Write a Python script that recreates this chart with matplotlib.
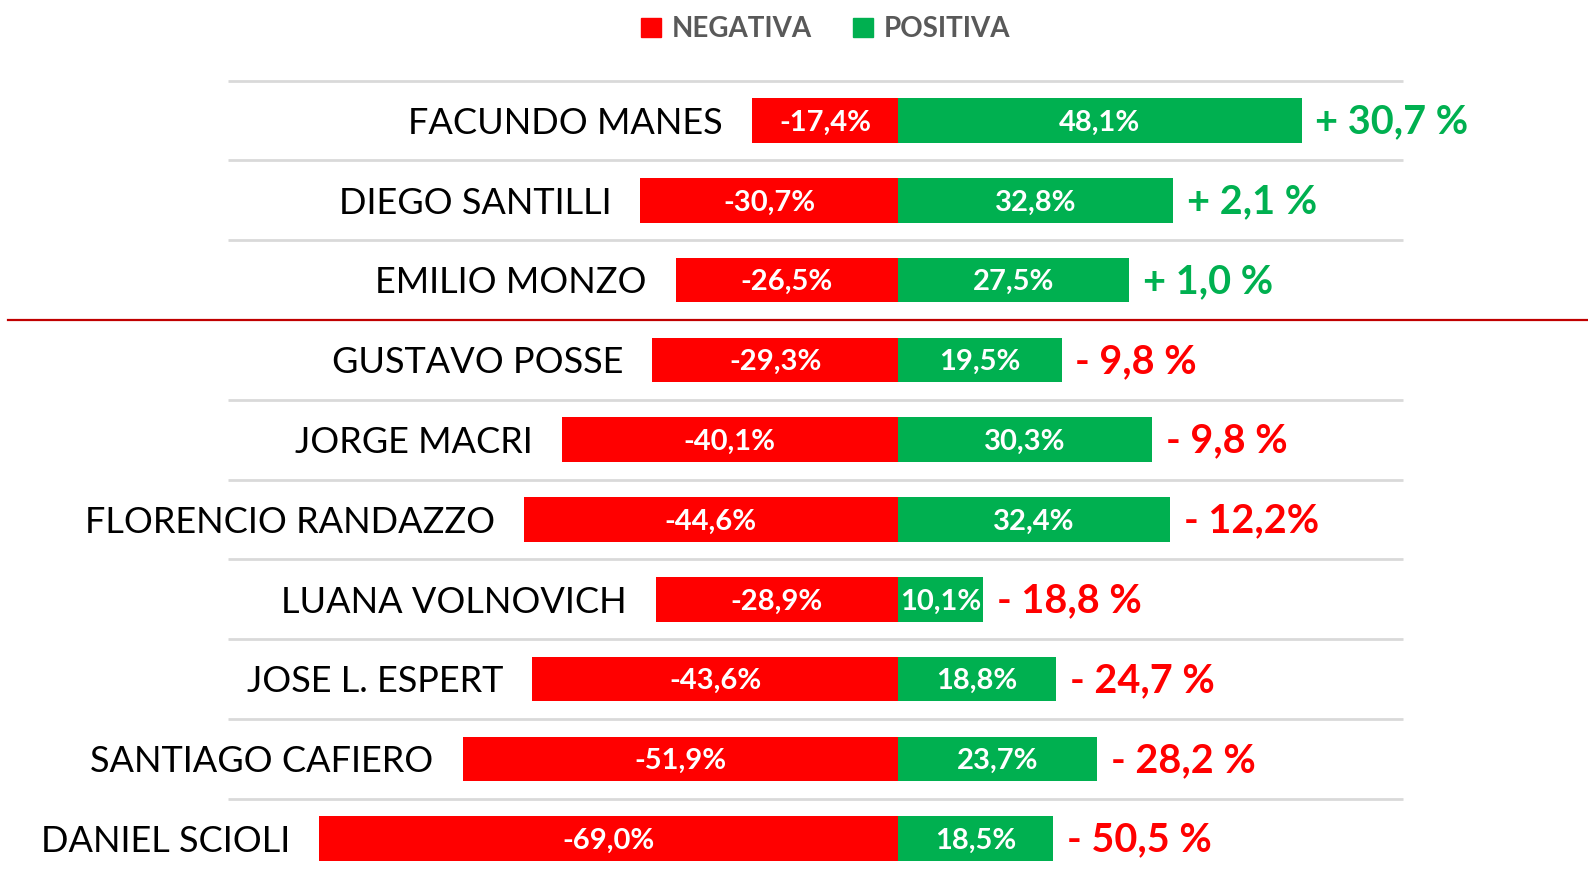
import numpy as np
import matplotlib.pyplot as plt
from matplotlib.patches import Patch

# imagen positiva / negativa por dirigente
names = ['FACUNDO MANES', 'DIEGO SANTILLI', 'EMILIO MONZO', 'GUSTAVO POSSE',
         'JORGE MACRI', 'FLORENCIO RANDAZZO', 'LUANA VOLNOVICH',
         'JOSE L. ESPERT', 'SANTIAGO CAFIERO', 'DANIEL SCIOLI']
negativa = [-17.4, -30.7, -26.5, -29.3, -40.1, -44.6, -28.9, -43.6, -51.9, -69.0]
positiva = [48.1, 32.8, 27.5, 19.5, 30.3, 32.4, 10.1, 18.8, 23.7, 18.5]
neg_labels = ['-17,4%', '-30,7%', '-26,5%', '-29,3%', '-40,1%', '-44,6%',
              '-28,9%', '-43,6%', '-51,9%', '-69,0%']
pos_labels = ['48,1%', '32,8%', '27,5%', '19,5%', '30,3%', '32,4%',
              '10,1%', '18,8%', '23,7%', '18,5%']
diff_labels = ['+ 30,7 %', '+ 2,1 %', '+ 1,0 %', '- 9,8 %', '- 9,8 %',
               '- 12,2%', '- 18,8 %', '- 24,7 %', '- 28,2 %', '- 50,5 %']

RED = '#FF0000'
GREEN = '#00B050'
FONT = 'Lato'

fig = plt.figure(figsize=(15.88, 8.71), dpi=100)
ax = fig.add_axes([0, 0, 1, 1])
ax.set_axis_off()

# scale: zero at 898 px, 8.39 px per percent; rows every 79.8 px
ax.set_xlim(-898 / 8.39, (1588 - 898) / 8.39)
ax.set_ylim((871 - 120.5) / 79.8, -120.5 / 79.8)

y = np.arange(len(names))

# separators
for k in range(len(names)):
    yy = k - 0.5
    if k == 3:
        ax.axhline(2.5, xmin=0.005, xmax=1, color='#C00000', lw=1.6, zorder=1)
    else:
        ax.plot([-79.9, 60.2], [yy, yy], color='#D9D9D9', lw=2, zorder=1,
                solid_capstyle='butt')

ax.barh(y, negativa, height=0.56, color=RED, zorder=2)
ax.barh(y, positiva, height=0.56, color=GREEN, zorder=2)

for i in range(len(names)):
    ax.annotate(neg_labels[i], (negativa[i] / 2, y[i]), xytext=(0, -1.5),
                textcoords='offset points', color='white', fontsize=21,
                fontweight='bold', ha='center', va='center', family=FONT)
    ax.annotate(pos_labels[i], (positiva[i] / 2, y[i]), xytext=(0, -1.5),
                textcoords='offset points', color='white', fontsize=21,
                fontweight='bold', ha='center', va='center', family=FONT)
    ax.annotate(names[i], (negativa[i], y[i]), xytext=(-21, -2),
                textcoords='offset points', ha='right', va='center',
                fontsize=26, color='black', family=FONT)
    col = GREEN if diff_labels[i].startswith('+') else RED
    ax.annotate(diff_labels[i], (positiva[i], y[i]), xytext=(10, -1),
                textcoords='offset points', ha='left', va='center',
                fontsize=28.5, fontweight='bold', color=col, family=FONT)

handles = [Patch(color=RED, label='NEGATIVA'), Patch(color=GREEN, label='POSITIVA')]
fig.legend(handles=handles, loc='upper center', bbox_to_anchor=(0.52, 1.01),
           ncol=2, frameon=False, handlelength=0.7, handleheight=0.7,
           handletextpad=0.4, columnspacing=1.5,
           prop={'family': FONT, 'weight': 'bold', 'size': 20},
           labelcolor='#595959')

fig.savefig('out.png', dpi=100)
